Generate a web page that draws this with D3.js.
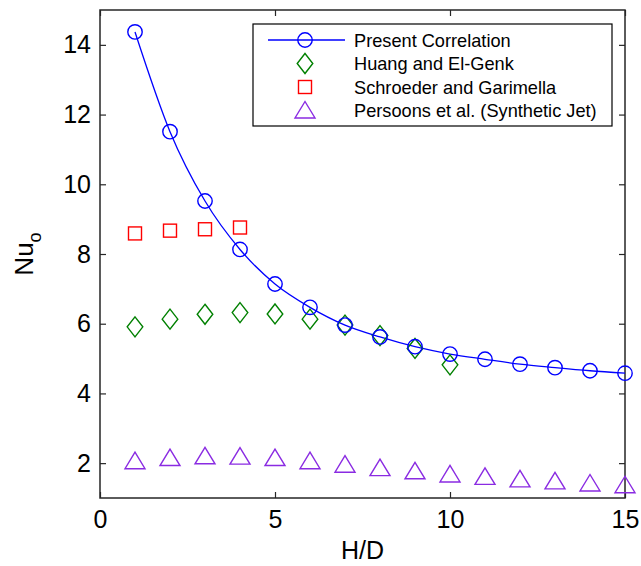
<!DOCTYPE html>
<html><head><meta charset="utf-8">
<script src="https://cdn.jsdelivr.net/npm/d3@7/dist/d3.min.js"></script>
<style>body{margin:0;background:#fff}svg{display:block}text{font-family:"Liberation Sans",Arial,Helvetica,sans-serif;fill:#000}</style>
</head><body><svg id="c" width="641" height="566"></svg>
<script>
const hd = [1,2,3,4,5,6,7,8,9,10,11,12,13,14,15];
const present = [14.37,11.51,9.52,8.13,7.14,6.47,5.96,5.62,5.34,5.13,4.98,4.84,4.74,4.65,4.58];
const huangX = [1,2,3,4,5,6,7,8,9,10];
const huang = [5.91,6.13,6.27,6.32,6.28,6.13,5.96,5.66,5.29,4.82];
const schroederX = [1,2,3,4];
const schroeder = [8.59,8.67,8.71,8.76];
const persoons = [2.07,2.16,2.21,2.20,2.16,2.07,1.97,1.87,1.78,1.69,1.62,1.55,1.49,1.43,1.38];
const xTicks = [0,5,10,15];
const yTicks = [2,4,6,8,10,12,14];
const legendLabels = ["Present Correlation","Huang and El-Genk","Schroeder and Garimella","Persoons et al. (Synthetic Jet)"];

const svg = d3.select("#c");
const L=100,R=625,T=10,B=498;
const x = d3.scaleLinear().domain([0,15]).range([L,R]);
const y = d3.scaleLinear().domain([1,15]).range([B,T]);
const axCol="#262626";
const blue="#0000ff", green="#008000", red="#ff0000", purple="#8a2be2";

const tl=6;
const gx=svg.append("g").attr("transform",`translate(0,${B})`)
  .call(d3.axisBottom(x).tickValues(xTicks).tickSize(-tl).tickPadding(12).tickFormat(d3.format("d")));
const gxt=svg.append("g").attr("transform",`translate(0,${T})`)
  .call(d3.axisTop(x).tickValues(xTicks).tickSize(-tl).tickFormat(""));
const gy=svg.append("g").attr("transform",`translate(${L},0)`)
  .call(d3.axisLeft(y).tickValues(yTicks).tickSize(-tl).tickPadding(9).tickFormat(d3.format("d")));
const gyr=svg.append("g").attr("transform",`translate(${R},0)`)
  .call(d3.axisRight(y).tickValues(yTicks).tickSize(-tl).tickFormat(""));
[gx,gxt,gy,gyr].forEach(g=>{
  g.select(".domain").remove();
  g.selectAll("line").attr("stroke",axCol).attr("stroke-width",1.2);
  g.selectAll("text").style("font-size","25px").attr("fill","#000");
});
svg.append("rect").attr("x",L).attr("y",T).attr("width",R-L).attr("height",B-T)
  .attr("fill","none").attr("stroke",axCol).attr("stroke-width",1.5);

svg.append("text").attr("x",(L+R)/2).attr("y",559).attr("text-anchor","middle")
  .style("font-size","25px").text("H/D");
const yl=svg.append("text").attr("transform",`translate(33,${(T+B)/2}) rotate(-90)`)
  .attr("text-anchor","middle").style("font-size","26px");
yl.append("tspan").text("Nu");
yl.append("tspan").attr("dy",8).style("font-size","18px").text("o");

const plot=svg.append("g");
plot.append("path").datum(hd.map((d,i)=>[d,present[i]]))
  .attr("fill","none").attr("stroke",blue).attr("stroke-width",1.3)
  .attr("d",d3.line().x(d=>x(d[0])).y(d=>y(d[1])).curve(d3.curveMonotoneX));

function circle(g,cx,cy){g.append("circle").attr("cx",cx).attr("cy",cy).attr("r",7.2).attr("fill","none").attr("stroke",blue).attr("stroke-width",1.4);}
function diamond(g,cx,cy){g.append("path").attr("d",`M${cx},${cy-10}L${cx+7.8},${cy}L${cx},${cy+10}L${cx-7.8},${cy}Z`).attr("fill","none").attr("stroke",green).attr("stroke-width",1.4);}
function square(g,cx,cy){g.append("rect").attr("x",cx-6.5).attr("y",cy-6.5).attr("width",13).attr("height",13).attr("fill","none").attr("stroke",red).attr("stroke-width",1.4);}
function tri(g,cx,cy){g.append("path").attr("d",`M${cx},${cy-8.5}L${cx+10},${cy+8}L${cx-10},${cy+8}Z`).attr("fill","none").attr("stroke",purple).attr("stroke-width",1.4);}

huangX.forEach((d,i)=>diamond(plot,x(d),y(huang[i])));
schroederX.forEach((d,i)=>square(plot,x(d),y(schroeder[i])));
hd.forEach((d,i)=>tri(plot,x(d),y(persoons[i])));
hd.forEach((d,i)=>circle(plot,x(d),y(present[i])));

const lg=svg.append("g");
lg.append("rect").attr("x",253).attr("y",24).attr("width",359).attr("height",102)
  .attr("fill","#fff").attr("stroke","#000").attr("stroke-width",1.2);
const rowsY=[40,63.5,87,110];
lg.append("line").attr("x1",268).attr("x2",345).attr("y1",rowsY[0]).attr("y2",rowsY[0]).attr("stroke",blue).attr("stroke-width",1.3);
circle(lg,305,rowsY[0]);
diamond(lg,305,rowsY[1]);
square(lg,305,rowsY[2]);
tri(lg,305,rowsY[3]);
legendLabels.forEach((t,i)=>lg.append("text").attr("x",354).attr("y",rowsY[i]+6.5).style("font-size","18.2px").text(t));
</script></body></html>
